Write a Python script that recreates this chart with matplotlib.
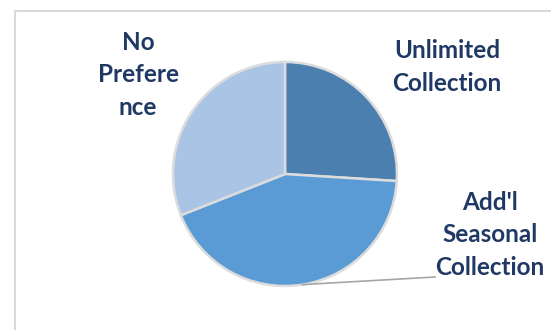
import numpy as np
import matplotlib.pyplot as plt
from matplotlib.patches import Rectangle

# Share of responses per collection option
categories = ["Unlimited\nCollection", "Add'l\nSeasonal\nCollection", "No\nPrefere\nnce"]
values = [26, 43, 31]
colors = ["#4a7fb0", "#5b9bd5", "#a9c4e4"]

W, H = 551, 330
fig = plt.figure(figsize=(W / 100, H / 100), dpi=100)
ax = fig.add_axes([0, 0, 1, 1])

# chart area border (light gray, runs off the right and bottom)
ax.add_patch(Rectangle((15, -10), W, H - 11 + 10, fill=False,
                       edgecolor="#d9d9d9", linewidth=1.5))

cx, cy, r = 285, H - 174, 112
wedges, _ = ax.pie(values, colors=colors, startangle=90, counterclock=False,
                   center=(cx, cy), radius=r, frame=True,
                   wedgeprops=dict(edgecolor="#dcdcdc", linewidth=1.8))
ax.set_xlim(0, W)
ax.set_ylim(0, H)
ax.set_aspect("equal")
ax.axis("off")

txt = dict(family="Lato", weight="bold", color="#1f3864", fontsize=17.5,
           ha="center", va="center", linespacing=1.5)
ax.text(447, H - 67, categories[0], **txt)
ax.text(490, H - 235, categories[1], **txt)
ax.text(138, H - 75, categories[2], **txt)

# leader line for the seasonal slice
w = wedges[1]
mid = np.deg2rad((w.theta1 + w.theta2) / 2)
ax.plot([cx + r * np.cos(mid), 435], [cy + r * np.sin(mid), H - 277],
        color="#a6a6a6", linewidth=1.2)

fig.savefig("out.png", dpi=100)
